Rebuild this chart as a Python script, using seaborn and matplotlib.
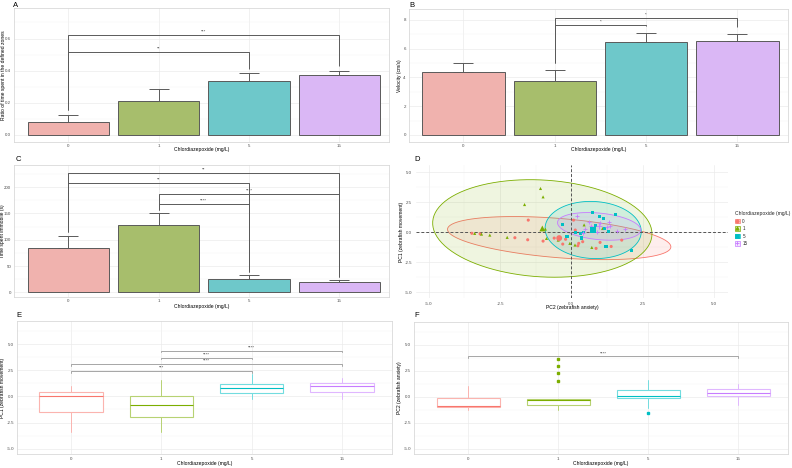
import numpy as np
import pandas as pd
import matplotlib
matplotlib.use("Agg")
import matplotlib.pyplot as plt
from matplotlib.lines import Line2D
from matplotlib.patches import Patch, Polygon
import seaborn as sns

# ---- data -------------------------------------------------------------
doses = ["0", "1", "5", "15"]
palette = ["#F8766D", "#7CAE00", "#00BFC4", "#C77CFF"]

ratio_mean = [0.083, 0.2125, 0.3375, 0.370]
ratio_se = [0.040, 0.075, 0.046, 0.030]
ratio_pairs = [(0, 2), (0, 3)]
ratio_heights = [0.517, 0.619]
ratio_labels = ["**", "***"]

velocity_mean = [4.40, 3.77, 6.46, 6.50]
velocity_se = [0.63, 0.72, 0.61, 0.52]
velocity_pairs = [(1, 2), (1, 3)]
velocity_heights = [7.65, 8.10]
velocity_labels = ["*", "*"]

immobile_mean = [85.0, 127.6, 24.7, 20.0]
immobile_se = [23.0, 23.0, 7.5, 3.0]
immobile_pairs = [(1, 2), (1, 3), (0, 2), (0, 3)]
immobile_heights = [167.5, 187.2, 207.6, 226.7]
immobile_labels = ["****", "****", "**", "**"]

# PCA scores per dose group: PC2 (x) and PC1 (y)
pc2_scores = {
    "0": [-3.49, -3.20, -1.98, -1.51, -1.53, -0.99, 0.26, 0.08, 0.87, 1.01,
          1.77, 0.14, 0.23, -0.60, -0.30, 1.40, -0.20, 0.40],
    "1": [-3.39, -3.15, -2.86, -2.25, -1.64, -1.08, -0.99, -0.91, -0.87,
          -0.46, -0.05, 0.13, 0.45, 0.72, 1.10],
    "5": [0.75, 1.00, 1.13, 0.84, 1.17, 1.31, 0.43, 0.31, -0.15, 0.37,
          1.22, 2.12, -0.30, 0.16, 0.37, 0.78, 1.54],
    "15": [1.00, 1.31, 1.35, 1.25, 1.90, 0.20, 0.61, 0.41, 0.49, 1.60,
           0.90, 0.70],
}
pc1_scores = {
    "0": [-0.10, -0.15, -0.47, 1.00, -0.64, -0.75, -0.94, 1.00, -1.36, -0.86,
          -0.67, 0.17, -1.14, -0.50, -1.00, -1.20, -0.60, -0.80],
    "1": [-0.11, -0.17, -0.25, -0.44, 2.30, 3.64, 2.94, 0.25, -0.53, -0.67,
          -0.94, -1.08, 0.60, -1.28, 0.30],
    "5": [1.61, 1.33, 1.14, 0.53, 0.30, 0.08, -0.06, -0.11, -0.33, -0.53,
          -1.17, -1.56, 0.64, -0.05, -0.47, 0.17, 1.47],
    "15": [0.72, 0.86, 0.47, 0.44, 0.30, 1.33, 0.86, -0.06, 0.22, 0.10,
           0.00, 0.50],
}
markers = ["o", "^", "s", "+"]

# box statistics (whislo, q1, med, q3, whishi, fliers)
pc1_boxes = [
    (-3.36, -1.46, 0.00, 0.45, 0.98, []),
    (-3.36, -1.94, -0.83, 0.06, 1.55, []),
    (-0.29, 0.35, 0.79, 1.21, 2.10, []),
    (-0.22, 0.45, 0.98, 1.30, 1.78, []),
]
pc1_pairs = [(0, 2), (0, 3), (1, 2), (1, 3)]
pc1_heights = [2.41, 3.08, 3.71, 4.38]
pc1_labels = ["***", "****", "****", "****"]

pc2_boxes = [
    (-1.30, -1.02, -0.86, -0.13, 0.98, []),
    (-1.24, -0.79, -0.29, -0.19, -0.19, [3.62, 2.95, 2.25, 1.46]),
    (-1.08, -0.13, 0.06, 0.63, 1.62, [-1.59]),
    (-0.79, 0.06, 0.35, 0.73, 1.24, []),
]
pc2_pairs = [(0, 3)]
pc2_heights = [3.87]
pc2_labels = ["****"]

# ---- style ------------------------------------------------------------
sns.set_theme(style="white")
plt.rcParams["font.family"] = ["Liberation Sans", "DejaVu Sans"]

W, H = 792, 468
TICK_FS = 3.2
LAB_FS = 3.6
XLAB = "Chlordiazepoxide (mg/L)"


def blend(color, alpha):
    rgb = np.array(matplotlib.colors.to_rgb(color))
    return tuple(rgb * alpha + (1 - alpha))


def add_axes(fig, left, top, right, bottom):
    return fig.add_axes([left / W, 1 - bottom / H, (right - left) / W, (bottom - top) / H])


def style_box_panel(ax, ylim, major, minor, fmt):
    ax.set_facecolor("white")
    for sp in ax.spines.values():
        sp.set_color("#d9d9d9")
        sp.set_linewidth(0.6)
    ax.set_ylim(*ylim)
    ax.set_yticks(major)
    ax.set_yticklabels([fmt.format(v) for v in major])
    ax.set_yticks(minor, minor=True)
    ax.set_xticks(range(len(doses)))
    ax.set_xticklabels(doses)
    ax.set_xlim(-0.6, 3.55)
    ax.grid(True, which="major", color="#ebebeb", lw=0.5)
    ax.grid(True, which="minor", axis="y", color="#f3f3f3", lw=0.3)
    ax.set_axisbelow(True)
    ax.tick_params(which="both", length=0, labelsize=TICK_FS, labelcolor="#4d4d4d", pad=2)


def set_labels(ax, xlabel, ylabel, xpos, ypos):
    ax.set_xlabel(xlabel, fontsize=LAB_FS, color="black")
    ax.set_ylabel(ylabel, fontsize=LAB_FS, color="black")
    ax.xaxis.set_label_coords(0.5, xpos)
    ax.yaxis.set_label_coords(ypos, 0.5)
    ax.xaxis.label.set_verticalalignment("center")
    ax.yaxis.label.set_verticalalignment("center")


def brackets(ax, pairs, heights, labels, bottoms, color, lw, dy):
    for (a, b), h, lab in zip(pairs, heights, labels):
        ax.plot([a, a, b, b], [bottoms[a], h, h, bottoms[b]], color=color, lw=lw,
                solid_capstyle="butt", zorder=4)
        ax.text((a + b) / 2, h + dy, lab, ha="center", va="bottom",
                fontsize=3.2, color="#333333", zorder=4)


def bar_panel(ax, means, ses, pairs, heights, labels, ylim, major, minor, fmt, pad):
    df = pd.DataFrame({"dose": doses, "value": means})
    sns.barplot(data=df, x="dose", y="value", hue="dose", order=doses, hue_order=doses,
                palette=[blend(c, 0.63) for c in palette], legend=False, width=0.9,
                edgecolor="#5a5a5a", linewidth=0.7, errorbar=None, ax=ax, zorder=2)
    tops = np.array(means) + np.array(ses)
    ax.errorbar(range(len(doses)), means, yerr=[np.zeros(len(doses)), ses], fmt="none",
                ecolor="#5a5a5a", elinewidth=0.7, capsize=7, capthick=0.7, zorder=3)
    style_box_panel(ax, ylim, major, minor, fmt)
    brackets(ax, pairs, heights, labels, tops + pad, "#5a5a5a", 0.7,
             (ylim[1] - ylim[0]) * 0.01)


def box_panel(ax, boxes, pairs, heights, labels):
    stats = [dict(whislo=b[0], q1=b[1], med=b[2], q3=b[3], whishi=b[4], fliers=b[5])
             for b in boxes]
    art = ax.bxp(stats, positions=range(len(doses)), widths=0.7, showcaps=False,
                 patch_artist=True, zorder=2)
    for i, c in enumerate(palette):
        light = blend(c, 0.55)
        art["boxes"][i].set(facecolor="white", edgecolor=light, lw=0.8)
        for w in art["whiskers"][2 * i:2 * i + 2]:
            w.set(color=light, lw=0.7)
        art["medians"][i].set(color=c, lw=0.8)
        art["fliers"][i].set(marker="s", markersize=1.6, markerfacecolor=c,
                             markeredgecolor=c)
    style_box_panel(ax, (-5.5, 7.2), [-5, -2.5, 0, 2.5, 5],
                    [-3.75, -1.25, 1.25, 3.75, 6.25], "{:.1f}")
    for (a, b), h, lab in zip(pairs, heights, labels):
        ax.plot([a, a, b, b], [h - 0.15, h, h, h - 0.15], color="#a6a6a6", lw=0.7, zorder=4)
        ax.text((a + b) / 2, h + 0.1, lab, ha="center", va="bottom",
                fontsize=3.2, color="#333333", zorder=4)


def ellipse_points(x, y, level=0.95, segments=100):
    # normal data ellipse, same radius rule as ggplot2 stat_ellipse
    pts = np.column_stack([x, y])
    n = len(pts)
    center = pts.mean(axis=0)
    cov = np.cov(pts, rowvar=False)
    dfd = n - 1
    fq = dfd / 2 * ((1 - level) ** (-2 / dfd) - 1)
    radius = np.sqrt(2 * fq)
    chol = np.linalg.cholesky(cov)
    t = np.linspace(0, 2 * np.pi, segments)
    unit = np.column_stack([np.cos(t), np.sin(t)])
    return center + radius * unit @ chol.T


fig = plt.figure(figsize=(W / 100, H / 100), dpi=100)

# A
axA = add_axes(fig, 14, 8, 389, 141.7)
bar_panel(axA, ratio_mean, ratio_se, ratio_pairs, ratio_heights, ratio_labels,
          (-0.042, 0.79), [0, 0.2, 0.4, 0.6], [0.1, 0.3, 0.5, 0.7], "{:.1f}", 0.03)
set_labels(axA, XLAB, "Ratio of time spent in the defined zones", -0.062, -0.029)

# B
axB = add_axes(fig, 408.7, 9, 787.7, 141.7)
bar_panel(axB, velocity_mean, velocity_se, velocity_pairs, velocity_heights,
          velocity_labels, (-0.47, 8.75), [0, 2, 4, 6, 8], [1, 3, 5, 7], "{:.0f}", 0.5)
set_labels(axB, XLAB, "Velocity (cm/s)", -0.062, -0.025)

# C
axC = add_axes(fig, 14, 165, 389, 296.7)
bar_panel(axC, immobile_mean, immobile_se, immobile_pairs, immobile_heights,
          immobile_labels, (-8.3, 242), [0, 50, 100, 150, 200], [25, 75, 125, 175, 225],
          "{:.0f}", 6)
set_labels(axC, XLAB, "Time spent immobile (s)", -0.078, -0.03)

# D
axD = add_axes(fig, 416, 165, 728, 298)
handles = []
for d, c in zip(doses, palette):
    xs, ys = np.array(pc2_scores[d]), np.array(pc1_scores[d])
    rgb = matplotlib.colors.to_rgb(c)
    poly = Polygon(ellipse_points(xs, ys), closed=True, facecolor=(*rgb, 0.12),
                   edgecolor=c, lw=0.6, zorder=1)
    axD.add_patch(poly)
for d, c, m in zip(doses, palette, markers):
    sub = pd.DataFrame({"pc2": pc2_scores[d], "pc1": pc1_scores[d]})
    kw = dict(edgecolor="none") if m != "+" else dict(linewidth=0.6)
    sns.scatterplot(data=sub, x="pc2", y="pc1", color=c, marker=m, s=5, ax=axD,
                    legend=False, zorder=3, **kw)
    sns.scatterplot(x=[sub["pc2"].mean()], y=[sub["pc1"].mean()], color=c, marker=m,
                    s=18, ax=axD, legend=False, zorder=4, **kw)
    handles.append((Patch(facecolor=blend(c, 0.2), edgecolor=c, lw=0.5),
                    Line2D([], [], ls="none", marker=m, color=c, markersize=2.5,
                           markeredgewidth=0.6)))
axD.axhline(0, color="#555555", ls=(0, (3, 2)), lw=0.7, zorder=2)
axD.axvline(0, color="#555555", ls=(0, (3, 2)), lw=0.7, zorder=2)
axD.set_xlim(-5.45, 5.5)
axD.set_ylim(-5.5, 5.6)
ticks = [-5, -2.5, 0, 2.5, 5]
axD.set_xticks(ticks)
axD.set_xticklabels([f"{v:.1f}" for v in ticks])
axD.set_yticks(ticks)
axD.set_yticklabels([f"{v:.1f}" for v in ticks])
axD.set_xticks([-3.75, -1.25, 1.25, 3.75], minor=True)
axD.set_yticks([-3.75, -1.25, 1.25, 3.75], minor=True)
axD.grid(True, which="major", color="#ebebeb", lw=0.5)
axD.grid(True, which="minor", color="#f3f3f3", lw=0.3)
axD.set_axisbelow(True)
for sp in axD.spines.values():
    sp.set_visible(False)
axD.tick_params(which="major", length=1.5, width=0.4, color="#333333",
                labelsize=TICK_FS, labelcolor="#4d4d4d", pad=1.5)
axD.tick_params(which="minor", length=0)
set_labels(axD, "PC2 (zebrafish anxiety)", "PC1 (zebrafish movement)", -0.072, -0.048)
leg = axD.legend(handles, doses, title="Chlordiazepoxide (mg/L)", loc="upper left",
                 bbox_to_anchor=(735 / W, 1 - 211 / H), bbox_transform=fig.transFigure,
                 frameon=False, fontsize=3.3, title_fontsize=3.6, handlelength=1.0,
                 handleheight=1.0, handletextpad=0.6, labelspacing=0.55,
                 borderpad=0, borderaxespad=0, alignment="left")

# E
axE = add_axes(fig, 16.7, 321, 391.7, 454)
box_panel(axE, pc1_boxes, pc1_pairs, pc1_heights, pc1_labels)
set_labels(axE, XLAB, "PC1 (zebrafish movement)", -0.075, -0.037)

# F
axF = add_axes(fig, 414, 321.7, 788, 454)
box_panel(axF, pc2_boxes, pc2_pairs, pc2_heights, pc2_labels)
set_labels(axF, XLAB, "PC2 (zebrafish anxiety)", -0.075, -0.039)

for lab, (x, y) in zip("ABCDEF", [(13, 2), (409, 2), (16, 156), (414, 156),
                                  (16, 312), (414, 312)]):
    fig.text(x / W, 1 - y / H, lab, fontsize=5.5, va="top", ha="left", color="black")

fig.savefig("out.png", dpi=100)
